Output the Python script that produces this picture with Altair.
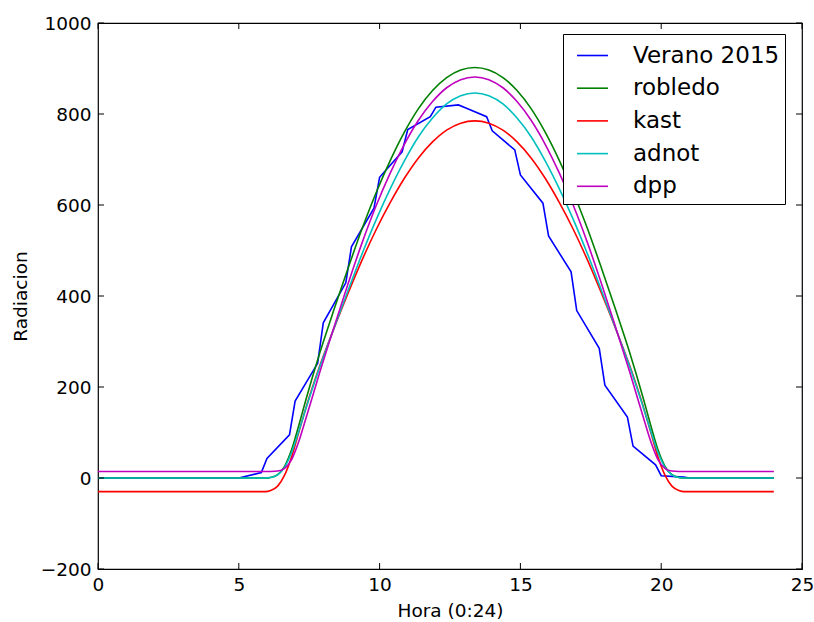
import altair as alt
import pandas as pd

# --- data ---
hora_obs = [0.0, 1.0, 2.0, 3.0, 4.0, 5.0, 5.8, 6.0, 6.8, 7.0, 7.8, 8.0, 8.8, 9.0, 9.8, 10.0,
            10.8, 11.0, 11.8, 12.0, 12.8, 13.0, 13.8, 14.0, 14.8, 15.0, 15.8, 16.0, 16.8, 17.0,
            17.8, 18.0, 18.8, 19.0, 19.8, 20.0, 20.8, 21.0, 22.0, 23.0, 24.0]
verano_2015 = [0, 0, 0, 0, 0, 0, 12, 43, 95, 169, 252, 341, 429, 508, 593, 661,
               717, 766, 794, 815, 820, 815, 794, 763, 721, 666, 604, 532, 453, 368,
               285, 204, 134, 70, 29, 5, 2, 0, 0, 0, 0]

hora_mod = [0.0, 5.95, 6.13, 6.38, 6.63, 6.88, 7.13, 7.38, 7.88, 8.38, 8.88, 9.38, 9.88,
            10.38, 10.88, 11.38, 11.88, 12.38, 12.88, 13.38, 13.88, 14.38, 14.88, 15.38,
            15.88, 16.38, 16.88, 17.38, 17.88, 18.38, 18.88, 19.38, 19.63, 19.88, 20.13,
            20.38, 20.63, 20.81, 24.0]
robledo = [0, 0, 1.1, 7.2, 26.2, 62.9, 115.5, 171.5, 275.8, 370.1, 461.1, 548.3, 627.6,
           698.1, 760.1, 811.8, 851.5, 880.0, 896.6, 902.1, 896.6, 880.0, 851.5, 811.8,
           760.1, 698.1, 627.6, 548.3, 461.1, 370.1, 275.8, 171.5, 115.5, 62.9, 26.2,
           7.2, 1.1, 0, 0]
kast = [-30, -30, -27.5, -17.8, 6.7, 47.4, 100.4, 153.4, 247.1, 328.6, 406.0, 479.4, 546.2,
        605.7, 658.7, 703.5, 738.6, 764.6, 779.9, 785.0, 779.9, 764.6, 738.6, 703.5,
        658.7, 605.7, 546.2, 479.4, 406.0, 328.6, 247.1, 153.4, 100.4, 47.4, 6.7,
        -17.8, -27.5, -30, -30]
adnot = [0, 0, 1, 7, 24, 57, 103, 152, 245, 329, 412, 493, 568,
         636, 697, 750, 791, 822, 840, 846, 840, 822, 791, 750,
         697, 636, 568, 493, 412, 329, 245, 152, 103, 57, 24,
         7, 1, 0, 0]
dpp = [14.3, 14.3, 14.4, 15.3, 21.2, 40.9, 80.1, 130.0, 233.6, 331.6, 426.9, 517.3, 598.8,
       670.5, 733.5, 786.2, 827.3, 857.7, 875.5, 881.4, 875.5, 857.7, 827.3, 786.2,
       733.5, 670.5, 598.8, 517.3, 426.9, 331.6, 233.6, 130.0, 80.1, 40.9, 21.2,
       15.3, 14.4, 14.3, 14.3]

series_names = ["Verano 2015", "robledo", "kast", "adnot", "dpp"]
series_colors = ["#0000ff", "#008000", "#ff0000", "#00bfbf", "#bf00bf"]
x_ticks = [0, 5, 10, 15, 20, 25]
y_ticks = [-200, 0, 200, 400, 600, 800, 1000]

rows = []
for h, v in zip(hora_obs, verano_2015):
    rows.append({"hora": h, "rad": v, "serie": "Verano 2015", "k": 0})
for k, (name, vals) in enumerate([("robledo", robledo), ("kast", kast),
                                  ("adnot", adnot), ("dpp", dpp)], start=1):
    for h, v in zip(hora_mod, vals):
        rows.append({"hora": h, "rad": v, "serie": name, "k": k})
df = pd.DataFrame(rows)

W, H = 704, 546
FONT = "DejaVu Sans"

xscale = alt.Scale(domain=[0, 25], nice=False, zero=False)
yscale = alt.Scale(domain=[-200, 1000], nice=False, zero=False)
color = alt.Color("serie:N", scale=alt.Scale(domain=series_names, range=series_colors),
                  sort=series_names,
                  legend=alt.Legend(title=None, orient="none", legendX=465, legendY=11,
                                    symbolType="stroke", symbolSize=961,
                                    symbolStrokeWidth=1.6, labelFontSize=23, labelFont=FONT,
                                    labelColor="black", labelOffset=24, symbolOffset=8,
                                    rowPadding=3.7, padding=5, strokeColor="black",
                                    fillColor="white", cornerRadius=0))

base = alt.Chart(df)
obs = base.transform_filter(alt.datum.serie == "Verano 2015").mark_line(
    strokeWidth=1.6, clip=True).encode(
    x=alt.X("hora:Q", scale=xscale,
            axis=alt.Axis(values=x_ticks, title="Hora (0:24)", grid=False, domain=False,
                          ticks=False, labelPadding=6, titlePadding=8, format="d",
                          labelFlush=False, labelOverlap=False,
                          labelFont=FONT, labelFontSize=18.5, labelColor="black",
                          titleFont=FONT, titleFontSize=18.5, titleColor="black",
                          titleFontWeight="normal")),
    y=alt.Y("rad:Q", scale=yscale,
            axis=alt.Axis(values=y_ticks, title="Radiacion", grid=False, domain=False,
                          ticks=False, labelPadding=7, titlePadding=10, format="d",
                          labelFlush=False, labelOverlap=False,
                          labelFont=FONT, labelFontSize=18.5, labelColor="black",
                          titleFont=FONT, titleFontSize=18.5, titleColor="black",
                          titleFontWeight="normal")),
    color=color,
)
models = base.transform_filter(alt.datum.serie != "Verano 2015").mark_line(
    strokeWidth=1.6, interpolate="monotone", clip=True).encode(
    x=alt.X("hora:Q", scale=xscale),
    y=alt.Y("rad:Q", scale=yscale),
    color=color,
    order="k:Q",
)

xt = pd.DataFrame({"v": x_ticks})
yt = pd.DataFrame({"v": y_ticks})
tick_bottom = alt.Chart(xt).mark_rule(color="black", strokeWidth=1).encode(
    x=alt.X("v:Q", scale=xscale), y=alt.value(H), y2=alt.value(H - 6))
tick_top = alt.Chart(xt).mark_rule(color="black", strokeWidth=1).encode(
    x=alt.X("v:Q", scale=xscale), y=alt.value(0), y2=alt.value(6))
tick_left = alt.Chart(yt).mark_rule(color="black", strokeWidth=1).encode(
    y=alt.Y("v:Q", scale=yscale), x=alt.value(0), x2=alt.value(6))
tick_right = alt.Chart(yt).mark_rule(color="black", strokeWidth=1).encode(
    y=alt.Y("v:Q", scale=yscale), x=alt.value(W), x2=alt.value(W - 6))

chart = alt.layer(obs, models, tick_bottom, tick_top, tick_left, tick_right).properties(
    width=W, height=H,
    background="white",
    autosize=alt.AutoSizeParams(type="none"),
    padding={"left": 98, "top": 23, "right": 12, "bottom": 53},
).configure_view(stroke="black", strokeWidth=1.2)

chart.save("out.html", embed_options={"renderer": "svg", "actions": False})
